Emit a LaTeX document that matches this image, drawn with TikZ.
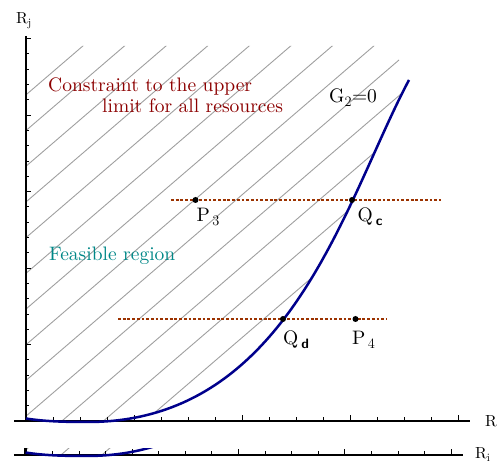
\documentclass[tikz,border=0pt]{standalone}
\usepackage{fontspec}
\setmainfont{lmroman10-regular.otf}[BoldFont=lmroman10-bold.otf]
\usepackage{tikz}

\definecolor{curveblue}{RGB}{0,0,140}
\definecolor{dotbrown}{RGB}{155,50,0}
\definecolor{consred}{RGB}{140,0,0}
\definecolor{feasteal}{RGB}{0,135,135}

\tikzset{
  axis/.style={line width=2.8pt},
  tickmark/.style={line width=0.6pt},
  hatch/.style={draw=gray!75, line width=0.9pt},
  gcurve/.style={draw=curveblue, line width=2.5pt},
  dotline/.style={draw=dotbrown, line width=2.8pt, dash pattern=on 2.8pt off 1.9pt},
  dot/.style={circle, fill=black, inner sep=0pt, minimum size=6pt},
  lbl/.style={font=\fontsize{19.5}{23}\selectfont, inner sep=0pt, anchor=base west},
  axlbl/.style={font=\fontsize{16}{19}\selectfont, inner sep=0pt, anchor=base west}
}

% axes, hatching and the curve G2=0
\newcommand{\basefig}{%
  \begin{scope}
    \clip (26,46) -- (392,46) -- (409,80) .. controls (345,200) and (290,422) .. (88,422)
      .. controls (65,422) and (45,421.5) .. (26,418.5) -- cycle;
    \foreach \k in {0,...,13}
      \draw[hatch] (-4,{96+35.7*\k+24.6}) -- (626,{96+35.7*\k-516.6});
  \end{scope}
  \coordinate (O) at (26,421);
  \coordinate (xbeg) at (14,421);
  \coordinate (xend) at (470,421);
  \coordinate (ytop) at (26,36);
  \draw[axis] (xbeg) -- (xend);
  \draw[axis] (ytop) -- (O);
  \foreach \i in {1,...,16} {
    \pgfmathsetmacro\tl{mod(\i,4)==0 ? 5.5 : 4}
    \draw[tickmark] ({26+27*\i},421) -- ({26+27*\i},{421-\tl});
  }
  \foreach \i in {1,...,25} {
    \pgfmathsetmacro\tl{mod(\i,5)==0 ? 4.5 : 3}
    \draw[tickmark] (26,{421-15.3*\i}) -- ({26+\tl},{421-15.3*\i});
  }
  \coordinate (gstart) at (26,418.5);
  \coordinate (gmin) at (88,422);
  \coordinate (gend) at (409,80);
  \draw[gcurve] (gstart) .. controls (45,421.5) and (65,422) .. (gmin)
    .. controls (290,422) and (345,200) .. (gend);
}

\begin{document}
\begin{tikzpicture}[x=1pt, y=-1pt]
  \useasboundingbox (0,0) rectangle (499,462);

  \basefig

  % repeated strip below the axis
  \begin{scope}[yshift=-34pt, xscale=0.985]
    \clip (0,414.3) rectangle (499,440);
    \basefig
  \end{scope}

  % horizontal dotted lines
  \coordinate (d1a) at (171,200);
  \coordinate (d1b) at (441,200);
  \coordinate (d2a) at (118,319);
  \coordinate (d2b) at (387,319);
  \draw[dotline] (d1a) -- (d1b);
  \draw[dotline] (d2a) -- (d2b);

  \node[dot] (P3) at (195.5,200) {};
  \node[dot] (Qc) at (352,200) {};
  \node[dot] (Qd) at (283,319) {};
  \node[dot] (P4) at (355.5,319) {};

  \node[lbl] (P3lab) at (196.5,222) {P$_{\,3}$};
  \node[lbl] (Qclab) at (357.5,222) {Q\textsubscript{\hspace{3pt}\sffamily\bfseries c}};
  \node[lbl] (Qdlab) at (283,345) {Q\textsubscript{\hspace{3pt}\sffamily\bfseries d}};
  \node[lbl] (P4lab) at (352,345) {P$_{\,4}$};

  \node[lbl, text=consred] (cons1) at (48,92) {Constraint to the upper};
  \node[lbl, text=consred] (cons2) at (102,113) {limit for all resources};
  \node[lbl] (G2) at (329,103) {G$_2$=0};
  \node[lbl, text=feasteal] (feas) at (49,261) {Feasible region};

  \node[axlbl] (Rj) at (16,23.5) {R$_{\mathrm{j}}$};
  \node[axlbl] (Rx) at (485,427) {R};
  \node[axlbl] (Ri) at (475,459) {R$_{\mathrm{i}}$};
\end{tikzpicture}
\end{document}
